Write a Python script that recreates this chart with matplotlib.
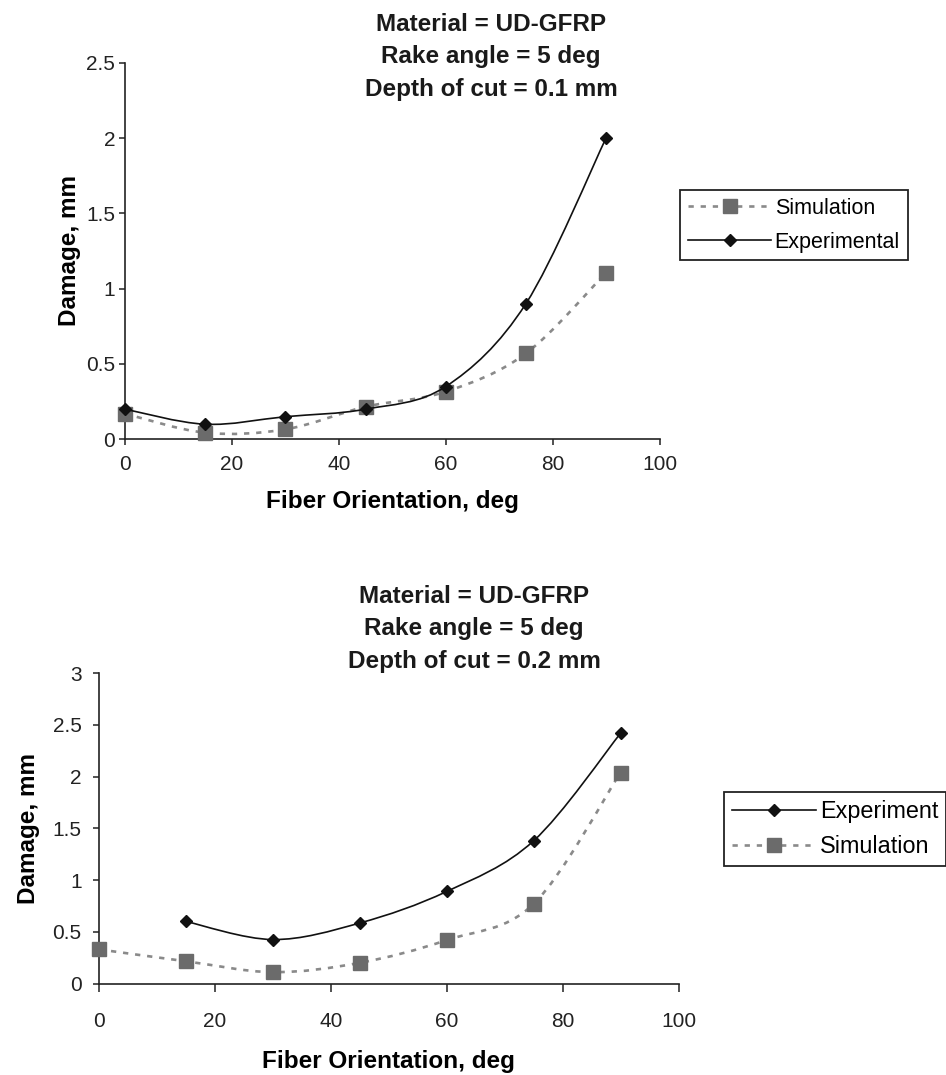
import numpy as np
import matplotlib
matplotlib.use("Agg")
import matplotlib.pyplot as plt
from matplotlib.path import Path
from matplotlib.patches import PathPatch
from matplotlib.lines import Line2D
from matplotlib.ticker import FuncFormatter

plt.rcParams['font.family'] = ['Liberation Sans', 'DejaVu Sans']

# ---------------- data ----------------
orient_top = [0, 15, 30, 45, 60, 75, 90]
sim_top = [0.17, 0.044, 0.066, 0.216, 0.316, 0.57, 1.106]
exp_top = [0.20, 0.10, 0.15, 0.20, 0.35, 0.90, 2.00]

orient_bot_exp = [15, 30, 45, 60, 75, 90]
exp_bot = [0.60, 0.425, 0.585, 0.89, 1.38, 2.42]
orient_bot_sim = [0, 15, 30, 45, 60, 75, 90]
sim_bot = [0.33, 0.215, 0.11, 0.20, 0.42, 0.77, 2.04]

title_top = ["Material = UD-GFRP", "Rake angle = 5 deg", "Depth of cut = 0.1 mm"]
title_bot = ["Material = UD-GFRP", "Rake angle = 5 deg", "Depth of cut = 0.2 mm"]
xlabel = "Fiber Orientation, deg"
ylabel = "Damage, mm"
xticks = [0, 20, 40, 60, 80, 100]
yticks_top = [0, 0.5, 1, 1.5, 2, 2.5]
yticks_bot = [0, 0.5, 1, 1.5, 2, 2.5, 3]

# ---------------- style ----------------
W, H = 946, 1075
fig = plt.figure(figsize=(W / 100, H / 100), dpi=100)

SIM_LINE = "#8a8a8a"
SIM_MARK = "#6b6b6b"
EXP_COL = "#111111"
DASH = (0, (2.0, 2.6))
TICK_FS = 15
LAB_FS = 17.5


def smooth_path(x, y):
    """Excel-like smoothed curve (cubic Bezier, tension 1/6)."""
    pts = np.column_stack([x, y]).astype(float)
    n = len(pts)
    verts = [pts[0]]
    codes = [Path.MOVETO]
    for i in range(n - 1):
        p0 = pts[i - 1] if i > 0 else pts[i]
        p1 = pts[i]
        p2 = pts[i + 1]
        p3 = pts[i + 2] if i + 2 < n else pts[i + 1]
        c1 = p1 + (p2 - p0) / 6.0
        c2 = p2 - (p3 - p1) / 6.0
        verts += [c1, c2, p2]
        codes += [Path.CURVE4] * 3
    return Path(verts, codes)


def fmt(v, pos):
    return "%g" % v


def style_axes(ax, yticks, ymax, xpad, ypad, xlen, ylen):
    ax.set_xlim(0, 100)
    ax.set_ylim(0, ymax)
    ax.set_xticks(xticks)
    ax.set_yticks(yticks)
    ax.yaxis.set_major_formatter(FuncFormatter(fmt))
    for s in ("top", "right"):
        ax.spines[s].set_visible(False)
    for s in ("left", "bottom"):
        ax.spines[s].set_linewidth(1.2)
        ax.spines[s].set_color("#222222")
    ax.tick_params(axis="both", direction="out", width=1.1,
                   colors="#222222", labelsize=TICK_FS, labelcolor="#222222")
    ax.tick_params(axis="x", pad=xpad, length=xlen)
    ax.tick_params(axis="y", pad=ypad, length=ylen)


MS_SQ = 9.5
MS_D = 6.6


def draw_series(ax, x, y, kind):
    if kind == "sim":
        ax.add_patch(PathPatch(smooth_path(x, y), facecolor="none",
                               edgecolor=SIM_LINE, lw=1.9, linestyle=DASH,
                               zorder=2))
        ax.plot(x, y, ls="none", marker="s", ms=MS_SQ, color=SIM_MARK,
                mec=SIM_MARK, zorder=3, clip_on=False)
    else:
        ax.add_patch(PathPatch(smooth_path(x, y), facecolor="none",
                               edgecolor=EXP_COL, lw=1.2, linestyle="-",
                               zorder=4))
        ax.plot(x, y, ls="none", marker="D", ms=MS_D, color=EXP_COL,
                mec=EXP_COL, zorder=5, clip_on=False)


sim_handle = Line2D([], [], color=SIM_LINE, lw=1.9, linestyle=DASH,
                    marker="s", ms=MS_SQ, mfc=SIM_MARK, mec=SIM_MARK)
exp_handle = Line2D([], [], color=EXP_COL, lw=1.2, linestyle="-",
                    marker="D", ms=MS_D, mfc=EXP_COL, mec=EXP_COL)


def legend(handles, labels, x0, y0, fs, hl, ls):
    leg = fig.legend(handles, labels, loc="upper left",
                     bbox_to_anchor=(x0 / W, 1 - y0 / H),
                     bbox_transform=fig.transFigure,
                     fontsize=fs, frameon=True, fancybox=False,
                     edgecolor="#222222", framealpha=1, borderaxespad=0,
                     handlelength=hl, handletextpad=0.15, borderpad=0.35,
                     labelspacing=ls, numpoints=1)
    leg.get_frame().set_linewidth(1.3)
    return leg


# ---------------- top chart ----------------
ax1 = fig.add_axes([125 / W, 1 - 439.3 / H, (659.5 - 125) / W, (439.3 - 62.7) / H])
style_axes(ax1, yticks_top, 2.5, xpad=7, ypad=3, xlen=4, ylen=4)
draw_series(ax1, orient_top, sim_top, "sim")
draw_series(ax1, orient_top, exp_top, "exp")
ax1.set_xlabel(xlabel, fontsize=LAB_FS, fontweight="bold", labelpad=12)
ax1.set_ylabel(ylabel, fontsize=LAB_FS, fontweight="bold", labelpad=4)
for i, line in enumerate(title_top):
    fig.text(491 / W, 1 - (31 + 32.3 * i) / H, line, ha="center",
             va="baseline", fontsize=LAB_FS, fontweight="bold", color="#1a1a1a")
legend([sim_handle, exp_handle], ["Simulation", "Experimental"], 680, 190,
       fs=15.5, hl=3.9, ls=0.62)

# ---------------- bottom chart ----------------
ax2 = fig.add_axes([99 / W, 1 - 983.5 / H, (678.5 - 99) / W, (983.5 - 673.3) / H])
style_axes(ax2, yticks_bot, 3, xpad=15, ypad=8, xlen=5.5, ylen=4.5)
draw_series(ax2, orient_bot_sim, sim_bot, "sim")
draw_series(ax2, orient_bot_exp, exp_bot, "exp")
ax2.set_xlabel(xlabel, fontsize=LAB_FS, fontweight="bold", labelpad=14)
ax2.set_ylabel(ylabel, fontsize=LAB_FS, fontweight="bold", labelpad=9)
for i, line in enumerate(title_bot):
    fig.text(474 / W, 1 - (603 + 32.5 * i) / H, line, ha="center",
             va="baseline", fontsize=LAB_FS, fontweight="bold", color="#1a1a1a")
legend([exp_handle, sim_handle], ["Experiment", "Simulation"], 724, 792,
       fs=16.8, hl=3.6, ls=0.5)

fig.savefig("out.png", dpi=100, facecolor="white")
